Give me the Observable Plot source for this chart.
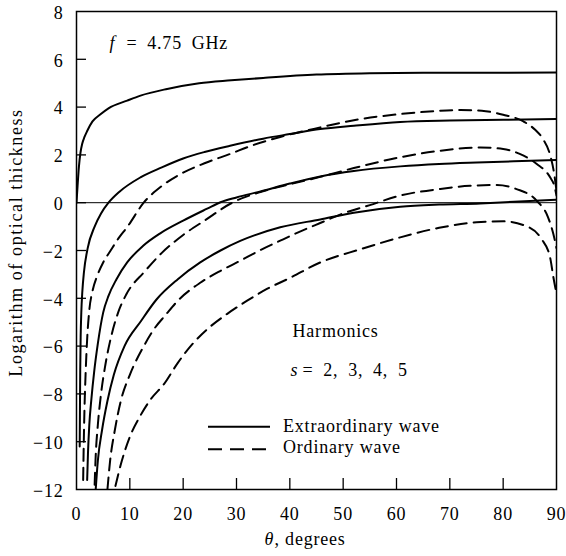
<!DOCTYPE html>
<html><head><meta charset="utf-8">
<script src="https://cdn.jsdelivr.net/npm/d3@7"></script>
<script src="https://cdn.jsdelivr.net/npm/@observablehq/plot@0.6"></script>
<style>
body{margin:0;background:#fff}
svg text{letter-spacing:0.8px;font-family:'Liberation Serif',serif}
svg text.ylab{letter-spacing:1.6px}
</style></head><body><div id="chart"></div>
<script>
// Tick values
const xTicks = [0, 10, 20, 30, 40, 50, 60, 70, 80, 90];
const yTicks = [-12, -10, -8, -6, -4, -2, 0, 2, 4, 6, 8];

// Extraordinary wave (solid), harmonics s = 2..5
const thetaX2 = [0, 0.2, 0.45, 0.75, 1.07, 1.5, 2, 3, 4.5, 6, 9.5, 12, 17, 23, 29, 35, 45, 55, 65, 75, 90];
const logX2   = [0, 0.7, 1.5, 2.1, 2.47, 2.75, 3.0, 3.4, 3.7, 3.95, 4.27, 4.48, 4.76, 5.0, 5.12, 5.22, 5.36, 5.42, 5.44, 5.44, 5.45];
const thetaX3 = [0.6, 0.65, 0.7, 0.78, 0.9, 1.1, 1.4, 2.1, 3.4, 4.6, 6, 8, 12, 16, 20, 24, 28.8, 35, 40, 45.7, 52, 60.7, 70, 80, 90];
const logX3   = [-10.2, -8.5, -7, -5.6, -4.6, -3.7, -2.9, -1.9, -1.0, -0.45, 0, 0.45, 1.06, 1.48, 1.85, 2.12, 2.38, 2.68, 2.87, 3.08, 3.22, 3.38, 3.44, 3.47, 3.5];
const thetaX4 = [2.0, 2.15, 2.4, 2.8, 3.3, 4.0, 5.0, 6.0, 7.5, 9.5, 12.5, 15.7, 20, 24.5, 27, 30, 34.5, 40, 45.7, 52, 60.7, 68, 75, 82, 90];
const logX4   = [-11.6, -10.5, -9.3, -8.2, -7.1, -5.9, -4.6, -3.9, -3.2, -2.5, -1.8, -1.28, -0.75, -0.25, 0.02, 0.22, 0.47, 0.8, 1.1, 1.33, 1.52, 1.62, 1.68, 1.73, 1.79];
const thetaX5 = [3.6, 4.0, 4.8, 5.8, 7.0, 9, 12.1, 15, 19, 23.2, 27, 30.7, 38.2, 45.7, 52, 60.7, 68, 75.7, 82, 90];
const logX5   = [-12, -10.8, -9.5, -8.3, -7.2, -6.0, -4.95, -4.05, -3.2, -2.5, -2.0, -1.6, -1.03, -0.7, -0.42, -0.17, -0.08, -0.03, 0.04, 0.12];

// Ordinary wave (dashed), harmonics s = 2..5
const thetaO2 = [1.25, 1.35, 1.5, 1.7, 2.0, 2.4, 3.0, 3.9, 5, 6.4, 8, 9.5, 12.6, 16, 19.5, 24, 28.8, 33, 38.2, 45.7, 52, 60.7, 67, 72, 76, 80, 83.8, 86, 87.5, 88.8, 89.5, 90];
const logO2   = [-11.6, -10.2, -8.6, -7.2, -5.7, -4.5, -3.7, -3.05, -2.5, -2.0, -1.45, -1.02, 0, 0.7, 1.2, 1.65, 2.04, 2.4, 2.75, 3.15, 3.45, 3.71, 3.83, 3.88, 3.85, 3.68, 3.4, 3.05, 2.65, 2.0, 1.3, 0.5];
const thetaO3 = [3.4, 3.6, 4.0, 4.6, 5.4, 6.5, 7.8, 9.3, 12.7, 16, 20, 24, 29.2, 34.5, 40, 45.7, 52, 60.7, 68, 75.7, 80, 83.1, 86.3, 88.8, 89.6, 90];
const logO3   = [-11.8, -10.6, -9.3, -8.0, -6.8, -5.6, -4.6, -3.85, -2.9, -2.1, -1.35, -0.75, 0, 0.45, 0.77, 1.08, 1.45, 1.9, 2.17, 2.31, 2.25, 2.04, 1.62, 1.06, 0.7, 0.3];
const thetaO4 = [5.8, 6.3, 7.2, 8.3, 10, 12.5, 14.5, 16.7, 19, 23.2, 27, 30.7, 34.5, 38.2, 42, 45.7, 50, 55, 60.7, 68, 73.8, 78.8, 82.5, 86.3, 88.4, 89.4, 90];
const logO4   = [-12, -10.8, -9.5, -8.3, -7.2, -6.05, -5.3, -4.7, -4.1, -3.35, -2.85, -2.43, -1.98, -1.59, -1.2, -0.85, -0.45, -0.1, 0.3, 0.57, 0.71, 0.74, 0.57, 0.08, -0.6, -1.3, -1.9];
const thetaO5 = [7.3, 8.5, 10, 12, 14, 16.4, 19, 22, 25, 28.2, 32, 35.7, 40, 45.7, 53.2, 60.7, 68, 75, 80, 84.1, 87.2, 88.8, 89.4, 90];
const logO5   = [-11.85, -10.8, -9.8, -8.9, -8.2, -7.59, -6.7, -5.85, -5.2, -4.66, -4.1, -3.61, -3.15, -2.5, -1.95, -1.45, -1.05, -0.82, -0.78, -0.96, -1.52, -2.29, -3.1, -3.8];

const legendLabels = ["Extraordinary wave", "Ordinary wave"];
const yLabel = "Logarithm of optical thickness";

const series = [
  {curve: "X2", wave: "X", theta: thetaX2, log: logX2},
  {curve: "X3", wave: "X", theta: thetaX3, log: logX3},
  {curve: "X4", wave: "X", theta: thetaX4, log: logX4},
  {curve: "X5", wave: "X", theta: thetaX5, log: logX5},
  {curve: "O2", wave: "O", theta: thetaO2, log: logO2},
  {curve: "O3", wave: "O", theta: thetaO3, log: logO3},
  {curve: "O4", wave: "O", theta: thetaO4, log: logO4},
  {curve: "O5", wave: "O", theta: thetaO5, log: logO5}
];
const rows = series.flatMap(s => s.theta.map((t, i) => ({curve: s.curve, wave: s.wave, theta: t, log: s.log[i]})));

const fmt = d => d < 0 ? "\u2212" + Math.abs(d) : String(d);
const DASH = "12,7";
const ML = 76, MT = 11;

function annotations() {
  const g = d3.create("svg:g");
  const lineY = [426.7, 449.3], baseY = [431.5, 452.5];
  legendLabels.forEach((lab, i) => {
    g.append("line").attr("x1", 208).attr("x2", i ? 266 : 270).attr("y1", lineY[i]).attr("y2", lineY[i])
      .attr("stroke", "black").attr("stroke-width", 2).attr("stroke-dasharray", i ? "14,8" : null);
    g.append("text").attr("x", 283).attr("y", baseY[i]).attr("fill", "black").attr("text-anchor", "start")
      .attr("font-family", "'Liberation Serif', serif").attr("font-size", 18).text(lab);
  });
  g.append("text").attr("class", "ylab").attr("transform", "translate(21.5,242.5) rotate(-90)")
    .attr("text-anchor", "middle").attr("fill", "black")
    .attr("font-family", "'Liberation Serif', serif").attr("font-size", 18).text(yLabel);
  return g.node();
}

const txt = (s, o) => Plot.text([s], {text: d => d, textAnchor: "start", lineAnchor: "bottom", fontSize: 18, ...o});

const chart = Plot.plot({
  width: 566, height: 556,
  marginLeft: ML, marginRight: 10, marginTop: MT, marginBottom: 67,
  x: {domain: [0, 90]},
  y: {domain: [-12, 8]},
  style: {fontFamily: "'Liberation Serif', serif", fontSize: "18px", background: "white", color: "black"},
  marks: [
    Plot.ruleY([0], {stroke: "black", strokeWidth: 1}),
    Plot.line(rows.filter(d => d.wave === "X"), {x: "theta", y: "log", z: "curve", stroke: "black", strokeWidth: 2, curve: "monotone-x", clip: true}),
    Plot.line(rows.filter(d => d.wave === "O"), {x: "theta", y: "log", z: "curve", stroke: "black", strokeWidth: 2, strokeDasharray: DASH, curve: "monotone-x", clip: true}),
    Plot.ruleX(xTicks.slice(1, -1), {stroke: "black", strokeWidth: 1.3, insetTop: 467}),
    Plot.ruleY(yTicks.slice(1, -1), {stroke: "black", strokeWidth: 1.3, insetRight: 470}),
    Plot.frame({stroke: "black", strokeWidth: 1.5}),
    Plot.axisX(xTicks, {tickSize: 0, tickPadding: 18, fontSize: 18, label: null}),
    Plot.axisY(yTicks, {tickSize: 0, tickPadding: 13, fontSize: 18, label: null, tickFormat: fmt, dy: 1.5}),
    txt("f", {frameAnchor: "top-left", dx: 33, dy: 37, fontStyle: "italic"}),
    txt("=\u20024.75\u2002GHz", {frameAnchor: "top-left", dx: 50, dy: 37}),
    txt("Harmonics", {frameAnchor: "top-left", dx: 216, dy: 325}),
    txt("s", {frameAnchor: "top-left", dx: 214, dy: 364, fontStyle: "italic"}),
    txt("=\u20022,\u20023,\u20024,\u20025", {frameAnchor: "top-left", dx: 226, dy: 364}),
    txt("\u03b8", {frameAnchor: "bottom-left", dx: 188, dy: 55, fontStyle: "italic"}),
    txt(", degrees", {frameAnchor: "bottom-left", dx: 198, dy: 55}),
    annotations
  ]
});
document.getElementById("chart").appendChild(chart);
</script></body></html>
